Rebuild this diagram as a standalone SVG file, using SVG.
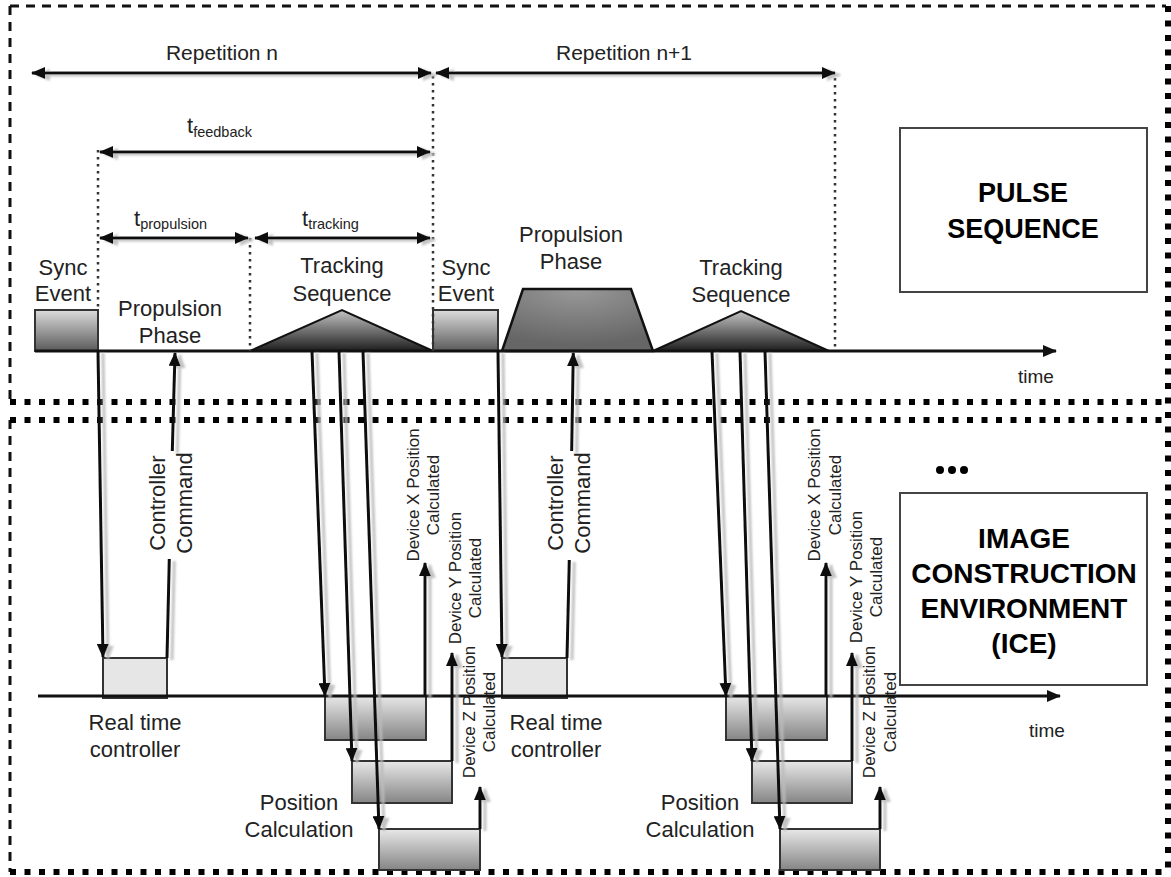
<svg xmlns="http://www.w3.org/2000/svg" width="1171" height="877" viewBox="0 0 1171 877">
<style>
text{font-family:"Liberation Sans",Arial,sans-serif;fill:#222}
.lbl{font-size:22px;text-anchor:middle}
.sm{font-size:17px;text-anchor:middle}
.big{font-size:27px;font-weight:bold;text-anchor:middle;fill:#000}
.tm{font-size:19px;text-anchor:middle}
.dim{stroke:#111;stroke-width:3;fill:none;marker-start:url(#ah);marker-end:url(#ah)}
.arr{stroke:#111;stroke-width:3;fill:none;marker-end:url(#ah)}
.seg{stroke:#111;stroke-width:3;fill:none}
.dot{stroke:#333;stroke-width:2.5;stroke-dasharray:2.5 4.5;fill:none}
.thin{stroke:#111;stroke-width:3;stroke-dasharray:9 7;fill:none}
.thick{stroke:#000;stroke-width:6;stroke-dasharray:6 8.5;fill:none}
.box{stroke:#333;stroke-width:2}
</style>
<defs>
<marker id="ah" viewBox="0 0 14 12" refX="13" refY="6" markerWidth="14" markerHeight="12" markerUnits="userSpaceOnUse" orient="auto-start-reverse"><path d="M0,0 L14,6 L0,12 z" fill="#111"/></marker>
<linearGradient id="gSync" x1="0" y1="0" x2="0" y2="1"><stop offset="0" stop-color="#dcdcdc"/><stop offset="1" stop-color="#5a5a5a"/></linearGradient>
<linearGradient id="gTri" x1="0" y1="0" x2="0" y2="1"><stop offset="0" stop-color="#c4c4c4"/><stop offset="1" stop-color="#1e1e1e"/></linearGradient>
<radialGradient id="gTrap" cx="0.5" cy="0" r="0.9"><stop offset="0" stop-color="#999"/><stop offset="1" stop-color="#666"/></radialGradient>
<linearGradient id="gPos" x1="0" y1="0" x2="0" y2="1"><stop offset="0" stop-color="#e8e8e8"/><stop offset="1" stop-color="#858585"/></linearGradient>
<filter id="sh" x="-20%" y="-20%" width="140%" height="140%"><feDropShadow dx="5" dy="2" stdDeviation="1" flood-color="#bbb" flood-opacity="0.9"/></filter>
</defs>
<rect width="1171" height="877" fill="#fff"/>

<g id="frames">
<line class="thin" x1="10" y1="6" x2="1166" y2="6"/>
<line class="thin" x1="10" y1="6" x2="10" y2="402"/>
<line class="thin" x1="10" y1="420" x2="10" y2="872"/>
<line class="thick" x1="10" y1="402" x2="1168" y2="402"/>
<line class="thick" x1="10" y1="420" x2="1168" y2="420"/>
<line class="thick" x1="10" y1="872" x2="1168" y2="872"/>
<line class="thick" x1="1168" y1="6" x2="1168" y2="872"/>
</g>

<g id="dimension-labels">
<text class="lbl" x="222" y="60" style="font-size:21px">Repetition n</text>
<text class="lbl" x="624" y="60" style="font-size:21px">Repetition n+1</text>
<text x="187" y="133" style="font-size:22px">t<tspan style="font-size:14.5px" dy="4">feedback</tspan></text>
<text x="134" y="226" style="font-size:22px">t<tspan style="font-size:14.5px" dy="3">propulsion</tspan></text>
<text x="302" y="226" style="font-size:22px">t<tspan style="font-size:14.5px" dy="3">tracking</tspan></text>
</g>

<g id="pulse-sequence">
<rect x="900" y="128" width="247" height="164" fill="#fff" stroke="#444" stroke-width="2"/>
<text class="big" x="1023" y="202">PULSE</text>
<text class="big" x="1023" y="238">SEQUENCE</text>
</g>

<g id="ice">
<rect x="900" y="493" width="247" height="192" fill="#fff" stroke="#444" stroke-width="2"/>
<text class="big" x="1024" y="548" style="font-size:28px">IMAGE</text>
<text class="big" x="1024" y="583" style="font-size:28px">CONSTRUCTION</text>
<text class="big" x="1024" y="618" style="font-size:28px">ENVIRONMENT</text>
<text class="big" x="1024" y="653" style="font-size:28px">(ICE)</text>
</g>

<g id="ellipsis">
<circle cx="940" cy="470" r="4" fill="#000"/>
<circle cx="952" cy="470" r="4" fill="#000"/>
<circle cx="964" cy="470" r="4" fill="#000"/>
</g>

<g id="sync-event-1">
<rect class="box" x="35" y="310" width="63" height="41" fill="url(#gSync)"/>
<text class="lbl" x="63" y="275">Sync</text>
<text class="lbl" x="63" y="301">Event</text>
</g>
<g id="propulsion-phase-1">
<text class="lbl" x="170" y="316">Propulsion</text>
<text class="lbl" x="170" y="343">Phase</text>
</g>
<g id="tracking-sequence-1">
<path d="M250,351 L342,310 L433,351 z" fill="url(#gTri)" stroke="#111" stroke-width="2"/>
<text class="lbl" x="342" y="273">Tracking</text>
<text class="lbl" x="342" y="301">Sequence</text>
</g>
<g id="sync-event-2">
<rect class="box" x="433" y="310" width="65" height="41" fill="url(#gSync)"/>
<text class="lbl" x="466" y="275">Sync</text>
<text class="lbl" x="466" y="301">Event</text>
</g>
<g id="propulsion-phase-2">
<path d="M502,351 L523,289 L631,289 L653,351 z" fill="url(#gTrap)" stroke="#111" stroke-width="2.5"/>
<text class="lbl" x="571" y="242">Propulsion</text>
<text class="lbl" x="571" y="269">Phase</text>
</g>
<g id="tracking-sequence-2">
<path d="M653,351 L741,311 L829,351 z" fill="url(#gTri)" stroke="#111" stroke-width="2"/>
<text class="lbl" x="741" y="275">Tracking</text>
<text class="lbl" x="741" y="302">Sequence</text>
</g>

<g id="real-time-controller-1">
<rect class="box" x="103" y="658" width="64" height="40" fill="#e6e6e6"/>
<text class="lbl" x="135" y="730">Real time</text>
<text class="lbl" x="135" y="757">controller</text>
</g>
<g id="real-time-controller-2">
<rect class="box" x="502" y="658" width="65" height="40" fill="#e6e6e6"/>
<text class="lbl" x="556" y="730">Real time</text>
<text class="lbl" x="556" y="757">controller</text>
</g>

<g id="position-calculation-1">
<rect class="box" x="325" y="696" width="101" height="44" fill="url(#gPos)"/>
<rect class="box" x="352" y="761" width="100" height="42" fill="url(#gPos)"/>
<rect class="box" x="379" y="829" width="101" height="41" fill="url(#gPos)"/>
<text class="lbl" x="299" y="810">Position</text>
<text class="lbl" x="299" y="837">Calculation</text>
</g>
<g id="position-calculation-2">
<rect class="box" x="726" y="696" width="101" height="44" fill="url(#gPos)"/>
<rect class="box" x="752" y="761" width="100" height="42" fill="url(#gPos)"/>
<rect class="box" x="780" y="829" width="100" height="41" fill="url(#gPos)"/>
<text class="lbl" x="700" y="810">Position</text>
<text class="lbl" x="700" y="837">Calculation</text>
</g>

<g id="axes">
<line class="arr" x1="35" y1="351" x2="1056" y2="351"/>
<text class="tm" x="1036" y="383">time</text>
<line class="arr" x1="38" y1="696" x2="1060" y2="696"/>
<text class="tm" x="1047" y="737">time</text>
</g>

<g id="guides">
<line class="dot" x1="433" y1="76" x2="433" y2="351"/>
<line class="dot" x1="835" y1="78" x2="835" y2="351"/>
<line class="dot" x1="98" y1="150" x2="98" y2="309"/>
<line class="dot" x1="250" y1="238" x2="250" y2="351"/>
</g>

<g id="connectors" filter="url(#sh)">
<line class="dim" x1="32" y1="73" x2="431" y2="73"/>
<line class="dim" x1="436" y1="73" x2="835" y2="73"/>
<line class="dim" x1="100" y1="152" x2="430" y2="152"/>
<line class="dim" x1="100" y1="238" x2="248" y2="238"/>
<line class="dim" x1="255" y1="238" x2="430" y2="238"/>

<line class="arr" x1="98" y1="351" x2="103" y2="657"/>
<line class="seg" x1="167" y1="658" x2="169.3" y2="559"/>
<line class="arr" x1="172.3" y1="451" x2="175" y2="353"/>
<line class="arr" x1="312" y1="351" x2="325" y2="696"/>
<line class="arr" x1="339" y1="351" x2="352" y2="761"/>
<line class="arr" x1="363" y1="351" x2="379" y2="829"/>
<line class="arr" x1="425" y1="696" x2="425" y2="563"/>
<line class="arr" x1="452" y1="761" x2="452" y2="653"/>
<line class="arr" x1="480" y1="829" x2="480" y2="787"/>

<line class="arr" x1="498" y1="351" x2="502" y2="657"/>
<line class="seg" x1="567" y1="658" x2="569.3" y2="560"/>
<line class="arr" x1="571.7" y1="451" x2="573.3" y2="353"/>
<line class="arr" x1="712" y1="351" x2="726" y2="696"/>
<line class="arr" x1="740" y1="351" x2="752" y2="761"/>
<line class="arr" x1="765" y1="351" x2="780" y2="829"/>
<line class="arr" x1="826" y1="696" x2="826" y2="563"/>
<line class="arr" x1="852" y1="761" x2="852" y2="653"/>
<line class="arr" x1="880" y1="829" x2="880" y2="787"/>
</g>

<g id="connector-labels">
<text class="lbl" transform="translate(165,503) rotate(-90)">Controller</text>
<text class="lbl" transform="translate(192,503) rotate(-90)">Command</text>
<text class="sm" transform="translate(419,495) rotate(-90)">Device X Position</text>
<text class="sm" transform="translate(439,495) rotate(-90)">Calculated</text>
<text class="sm" transform="translate(461,578) rotate(-90)">Device Y Position</text>
<text class="sm" transform="translate(481,578) rotate(-90)">Calculated</text>
<text class="sm" transform="translate(475,712) rotate(-90)">Device Z Position</text>
<text class="sm" transform="translate(495,712) rotate(-90)">Calculated</text>

<text class="lbl" transform="translate(563,503) rotate(-90)">Controller</text>
<text class="lbl" transform="translate(590,503) rotate(-90)">Command</text>
<text class="sm" transform="translate(820,495) rotate(-90)">Device X Position</text>
<text class="sm" transform="translate(841,495) rotate(-90)">Calculated</text>
<text class="sm" transform="translate(862,577) rotate(-90)">Device Y Position</text>
<text class="sm" transform="translate(882,577) rotate(-90)">Calculated</text>
<text class="sm" transform="translate(875,712) rotate(-90)">Device Z Position</text>
<text class="sm" transform="translate(896,712) rotate(-90)">Calculated</text>
</g>
</svg>
